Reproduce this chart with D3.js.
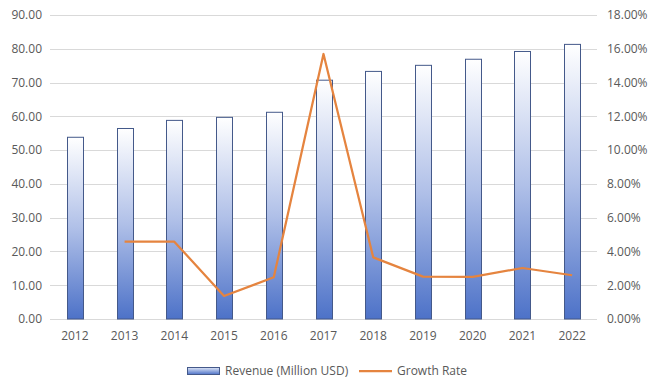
<!DOCTYPE html>
<html><head><meta charset="utf-8">
<script src="https://cdn.jsdelivr.net/npm/d3@7"></script>
<style>body{margin:0;background:#fff}svg{display:block}text{font-family:"Open Sans",sans-serif;fill:#595959}</style>
</head><body>
<svg id="c" width="657" height="390"></svg>
<script>
const years = ["2012","2013","2014","2015","2016","2017","2018","2019","2020","2021","2022"];
const revenue = [53.8,56.4,58.8,59.7,61.2,70.7,73.3,75.1,76.9,79.2,81.3];
const growth = [null,4.58,4.58,1.36,2.47,15.69,3.65,2.51,2.5,3.02,2.59];
const leftTicks = [0,10,20,30,40,50,60,70,80,90];
const rightTicks = [0,2,4,6,8,10,12,14,16,18];
const seriesNames = ["Revenue (Million USD)","Growth Rate"];

const svg = d3.select("#c");
const m = {l:50, r:60, t:15, b:71};
const W = 657, H = 390;
const x = d3.scaleBand().domain(years).range([m.l, W - m.r]);
const y = d3.scaleLinear().domain([0,90]).range([H - m.b, m.t]);
const y2 = d3.scaleLinear().domain([0,18]).range([H - m.b, m.t]);

const defs = svg.append("defs");
const g = defs.append("linearGradient").attr("id","bg").attr("x1",0).attr("y1",0).attr("x2",0).attr("y2",1);
g.append("stop").attr("offset","0%").attr("stop-color","#ffffff");
g.append("stop").attr("offset","50%").attr("stop-color","#b0c0e8");
g.append("stop").attr("offset","100%").attr("stop-color","#4d72c8");
const lg = defs.append("linearGradient").attr("id","lgb").attr("x1",0).attr("y1",0).attr("x2",0).attr("y2",1);
lg.append("stop").attr("offset","0%").attr("stop-color","#dfe6f6");
lg.append("stop").attr("offset","100%").attr("stop-color","#4d72c8");

// gridlines
svg.append("g").selectAll("line").data(leftTicks).join("line")
  .attr("x1", m.l).attr("x2", W - m.r)
  .attr("y1", d => Math.round(y(d)) + 0.5).attr("y2", d => Math.round(y(d)) + 0.5)
  .attr("stroke", "#d9d9d9").attr("stroke-width", 1);

// left axis
const la = svg.append("g").attr("transform", `translate(${m.l},0)`)
  .call(d3.axisLeft(y).tickValues(leftTicks).tickFormat(d3.format(".2f")).tickSize(0).tickPadding(8));
la.select(".domain").remove();
la.selectAll("text").style("font-size","12px").style("font-family","Open Sans").attr("fill","#595959");

// right axis
const ra = svg.append("g").attr("transform", `translate(${W - m.r},0)`)
  .call(d3.axisRight(y2).tickValues(rightTicks).tickFormat(d => d.toFixed(2) + "%").tickSize(0).tickPadding(10));
ra.select(".domain").remove();
ra.selectAll("text").style("font-size","12px").style("font-family","Open Sans").attr("fill","#595959");

// x axis
const xa = svg.append("g").attr("transform", `translate(0,${H - m.b})`)
  .call(d3.axisBottom(x).tickSize(0).tickPadding(12));
xa.select(".domain").remove();
xa.selectAll("text").style("font-size","12px").style("font-family","Open Sans").attr("fill","#595959");

// bars
const bw = 16;
svg.append("g").selectAll("rect").data(revenue).join("rect")
  .attr("x", (d,i) => Math.round(x(years[i]) + x.bandwidth()/2 - bw/2) + 0.5)
  .attr("y", d => y(d))
  .attr("width", bw)
  .attr("height", d => y(0) - y(d))
  .attr("fill", "url(#bg)")
  .attr("stroke", "#44598a").attr("stroke-width", 1);

// line
const line = d3.line().defined(d => d.v != null)
  .x(d => x(d.k) + x.bandwidth()/2).y(d => y2(d.v));
svg.append("path").datum(years.map((k,i) => ({k, v: growth[i]})))
  .attr("d", line).attr("fill","none").attr("stroke","#e5843f").attr("stroke-width",2.25)
  .attr("stroke-linejoin","round");

// legend
const ly = 371;
const leg = svg.append("g");
leg.append("rect").attr("x",187.5).attr("y",ly-3.5).attr("width",32).attr("height",7)
  .attr("fill","url(#lgb)").attr("stroke","#44598a").attr("stroke-width",1);
leg.append("text").attr("x",225).attr("y",ly).attr("dy","0.35em").style("font-size","12px").text(seriesNames[0]);
leg.append("line").attr("x1",359).attr("x2",392).attr("y1",ly).attr("y2",ly)
  .attr("stroke","#e5843f").attr("stroke-width",2.25);
leg.append("text").attr("x",397).attr("y",ly).attr("dy","0.35em").style("font-size","12px").text(seriesNames[1]);
</script>
</body></html>
